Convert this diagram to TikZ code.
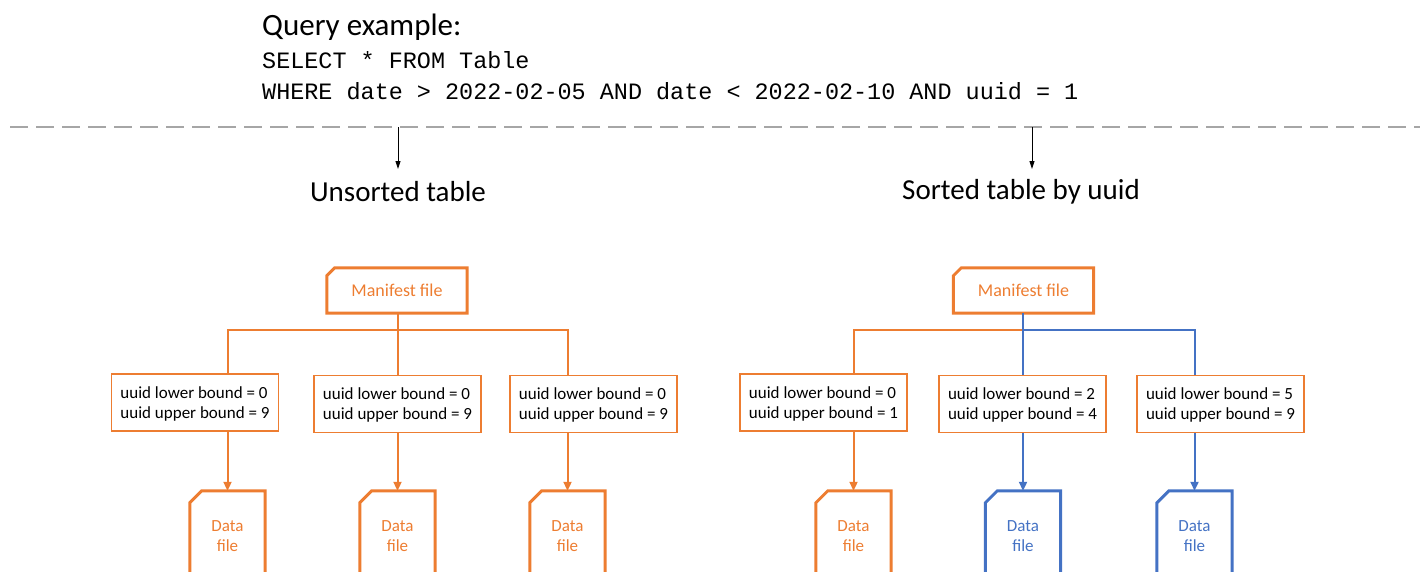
\documentclass[tikz,border=0pt]{standalone}
\usepackage{fontspec}
\setmainfont{Carlito}
\setmonofont{Liberation Mono}
\usetikzlibrary{calc,arrows.meta}
\definecolor{ora}{HTML}{ED7D31}
\definecolor{blu}{HTML}{4472C4}
\definecolor{dgray}{HTML}{A6A6A6}
\tikzset{
  lbl/.style={font=\fontsize{#1}{#1}\selectfont, inner sep=0pt},
  boundbox/.style={draw=ora, line width=1.3pt, fill=white, minimum width=167pt, minimum height=57pt, inner sep=0pt, text depth=-3pt, align=left, font=\fontsize{17}{20}\selectfont},
  manbox/.style={minimum width=140pt, minimum height=45pt, inner sep=0pt},
  filebox/.style={minimum width=75pt, minimum height=130pt, inner sep=0pt},
  thickline/.style={line width=3pt, line join=miter},
  conn/.style={line width=2pt},
  carrow/.style={line width=2pt, -{Triangle[length=9pt,width=8pt]}},
  blackarrow/.style={line width=0.9pt, -{Triangle[length=8pt,width=5pt]}},
}
\begin{document}
\begin{tikzpicture}[x=1pt,y=-1pt]
\useasboundingbox (0,0) rectangle (1420,571);
\clip (0,0) rectangle (1420,571);
% header
\node[lbl=31, anchor=base west] (q) at (262,35) {Query example:};
\node[lbl=23.45, anchor=base west, font=\ttfamily\fontsize{23.45}{23.45}\selectfont] (s1) at (262,68) {SELECT * FROM Table};
\node[lbl=23.45, anchor=base west, font=\ttfamily\fontsize{23.45}{23.45}\selectfont] (s2) at (262,99) {WHERE date > 2022-02-05 AND date < 2022-02-10 AND uuid = 1};
\coordinate (dl) at (10,127);
\coordinate (dr) at (1420,127);
\draw[dgray, line width=2.5pt, dash pattern=on 18pt off 8pt] (dl) -- (dr);
% titles
\node[lbl=29] (t1) at (398,192) {Unsorted table};
\node[lbl=29] (t2) at (1021,192) {Sorted table by uuid};
\coordinate (a1) at (398,127);
\coordinate (a1e) at (398,169);
\coordinate (a2) at (1032,127);
\coordinate (a2e) at (1032,169);
\draw[blackarrow] (a1) -- (a1e);
\draw[blackarrow] (a2) -- (a2e);
% manifests
\node[manbox] (m1) at (397,290.5) {};
\node[manbox] (m2) at (1023.5,290.5) {};
\node[lbl=18, text=ora] (m1t) at (m1) {Manifest file};
\node[lbl=18, text=ora] (m2t) at (m2) {Manifest file};
\foreach \m in {m1,m2}{
  \draw[thickline, draw=ora] (\m.south west) -- ($(\m.north west)+(0,8)$) -- ($(\m.north west)+(8,0)$) -- (\m.north east) -- (\m.south east) -- cycle;
}
% files
\node[filebox] (f1) at (227.5,556) {};
\node[filebox] (f2) at (397.5,556) {};
\node[filebox] (f3) at (567.5,556) {};
\node[filebox] (f4) at (853.5,556) {};
\node[filebox] (f5) at (1023,556) {};
\node[filebox] (f6) at (1194.5,556) {};
\foreach \f/\c in {f1/ora,f2/ora,f3/ora,f4/ora,f5/blu,f6/blu}{
  \draw[thickline, draw=\c] (\f.south west) -- ($(\f.north west)+(0,12)$) -- ($(\f.north west)+(12,0)$) -- (\f.north east) -- (\f.south east);
  \node[lbl=17, text=\c, align=center, font=\fontsize{17}{20}\selectfont] (\f t) at ($(\f.north)+(0,45)$) {Data\\file};
}
% bound boxes
\node[boundbox] (b1) at (195,402.5) {uuid lower bound = 0\\uuid upper bound = 9};
\node[boundbox] (b2) at (397.5,404) {uuid lower bound = 0\\uuid upper bound = 9};
\node[boundbox] (b3) at (593.5,404) {uuid lower bound = 0\\uuid upper bound = 9};
\node[boundbox] (b4) at (823.5,402.5) {uuid lower bound = 0\\uuid upper bound = 1};
\node[boundbox] (b5) at (1022.5,404) {uuid lower bound = 2\\uuid upper bound = 4};
\node[boundbox] (b6) at (1220.5,404) {uuid lower bound = 5\\uuid upper bound = 9};
% junctions
\coordinate (j1) at ($(m1.south)+(1,17)$);
\coordinate (j2) at ($(m2.south)+(0,17)$);
% left tree
\draw[conn, ora] (m1.south -| j1) -- (b2.north -| j1);
\draw[conn, ora] (b1.north -| f1.north) |- (j1) -| (b3.north -| f3.north);
\draw[carrow, ora] (b1.south -| f1.north) -- (f1.north);
\draw[carrow, ora] (b2.south -| f2.north) -- (f2.north);
\draw[carrow, ora] (b3.south -| f3.north) -- (f3.north);
% right tree
\draw[conn, ora] (b4.north -| f4.north) |- (j2);
\draw[conn, blu] (m2.south -| f5.north) -- (b5.north -| f5.north);
\draw[conn, blu] (j2) -| (b6.north -| f6.north);
\draw[carrow, ora] (b4.south -| f4.north) -- (f4.north);
\draw[carrow, blu] (b5.south -| f5.north) -- (f5.north);
\draw[carrow, blu] (b6.south -| f6.north) -- (f6.north);
\end{tikzpicture}
\end{document}
